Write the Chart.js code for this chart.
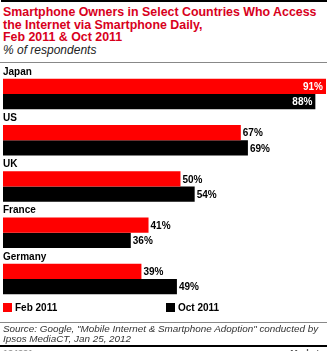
<!DOCTYPE html>
<html lang="en">
<head>
    <meta charset="UTF-8">
    <title>Smartphone Owners Daily Internet Access</title>
    <style>
        body {
            margin: 0;
            padding: 0;
            background: #ffffff;
            font-family: "Liberation Sans", Arial, sans-serif;
            width: 336px;
            height: 351px;
            overflow: hidden;
            position: relative;
        }

        .top-rule {
            position: absolute;
            left: 1px;
            top: 0;
            width: 326px;
            height: 2px;
            background: #000;
        }

        .title {
            position: absolute;
            left: 3px;
            top: 6px;
            margin: 0;
            color: #d8001c;
            font-size: 12.4px;
            font-weight: bold;
            line-height: 12.5px;
            white-space: nowrap;
        }

        .subtitle {
            position: absolute;
            left: 3px;
            top: 43px;
            font-size: 12px;
            font-style: italic;
            color: #222;
            white-space: nowrap;
        }

        .rule {
            position: absolute;
            left: 0;
            width: 327px;
            height: 1px;
            background: #888;
        }

        .chart-box {
            position: absolute;
            left: 0;
            top: 60px;
            width: 336px;
            height: 245px;
        }

        .legend {
            position: absolute;
            top: 302px;
            font-size: 10px;
            font-weight: bold;
            color: #000;
            display: flex;
            align-items: center;
        }

        .legend span.swatch {
            display: inline-block;
            width: 9px;
            height: 9px;
            margin-right: 3px;
        }

        .source {
            position: absolute;
            left: 3px;
            top: 324px;
            font-size: 9.9px;
            font-style: italic;
            line-height: 10px;
            color: #333;
            white-space: nowrap;
        }

        .bottom-rule {
            position: absolute;
            left: 0;
            top: 345px;
            width: 327px;
            height: 2px;
            background: #000;
        }

        .footer {
            position: absolute;
            top: 348px;
            font-size: 9px;
            font-weight: bold;
            color: #999;
        }
    </style>
    <script src="https://cdn.jsdelivr.net/npm/chart.js"></script>
</head>
<body>
    <div class="top-rule"></div>
    <h1 class="title">Smartphone Owners in Select Countries Who Access<br>the Internet via Smartphone Daily,<br>Feb 2011 &amp; Oct 2011</h1>
    <div class="subtitle">% of respondents</div>
    <div class="rule" style="top: 62px;"></div>

    <div class="chart-box">
        <canvas id="myChart" width="336" height="245"></canvas>
    </div>

    <div class="legend" style="left: 3px;"><span class="swatch" style="background:#ff0000;"></span>Feb 2011</div>
    <div class="legend" style="left: 166px;"><span class="swatch" style="background:#000000;"></span>Oct 2011</div>

    <div class="rule" style="top: 322px;"></div>
    <div class="source">Source: Google, "Mobile Internet &amp; Smartphone Adoption" conducted by<br>Ipsos MediaCT, Jan 25, 2012</div>
    <div class="bottom-rule"></div>
    <div class="footer" style="left: 3px;">134331</div>
    <div class="footer" style="left: 262px; color:#555;">www.eMarketer.com</div>

    <script>
        const countries = ['Japan', 'US', 'UK', 'France', 'Germany'];
        const feb2011 = [91, 67, 50, 41, 39];
        const oct2011 = [88, 69, 54, 36, 49];

        // country name above each pair, value labels at bar ends
        const barLabels = {
            id: 'barLabels',
            afterDatasetsDraw(chart) {
                const ctx = chart.ctx;
                ctx.save();
                ctx.font = 'bold 10px "Liberation Sans", Arial, sans-serif';
                ctx.textBaseline = 'middle';

                chart.data.datasets.forEach((ds, di) => {
                    const meta = chart.getDatasetMeta(di);
                    meta.data.forEach((bar, i) => {
                        const v = ds.data[i];
                        const text = v + '%';
                        if (v > 80) {
                            ctx.fillStyle = '#ffffff';
                            ctx.textAlign = 'right';
                            ctx.fillText(text, bar.x - 3, bar.y + 1);
                        } else {
                            ctx.fillStyle = '#000000';
                            ctx.textAlign = 'left';
                            ctx.fillText(text, bar.x + 2, bar.y + 1);
                        }
                    });
                });

                const first = chart.getDatasetMeta(0);
                ctx.fillStyle = '#000000';
                ctx.textAlign = 'left';
                ctx.textBaseline = 'alphabetic';
                first.data.forEach((bar, i) => {
                    const top = bar.y - bar.height / 2;
                    ctx.fillText(chart.data.labels[i], 3, top - 4);
                });
                ctx.restore();
            }
        };

        const ctx = document.getElementById('myChart').getContext('2d');
        new Chart(ctx, {
            type: 'bar',
            data: {
                labels: countries,
                datasets: [{
                    label: 'Feb 2011',
                    data: feb2011,
                    backgroundColor: '#ff0000',
                    categoryPercentage: 0.66,
                    barPercentage: 1.0
                }, {
                    label: 'Oct 2011',
                    data: oct2011,
                    backgroundColor: '#000000',
                    categoryPercentage: 0.66,
                    barPercentage: 1.0
                }]
            },
            options: {
                indexAxis: 'y',
                responsive: false,
                animation: false,
                layout: {
                    padding: { left: 3, right: 10, top: 11, bottom: 3 }
                },
                plugins: {
                    legend: { display: false },
                    tooltip: { enabled: false }
                },
                scales: {
                    x: {
                        display: false,
                        min: 0,
                        max: 91
                    },
                    y: {
                        display: false
                    }
                }
            },
            plugins: [barLabels]
        });
    </script>
</body>
</html>
